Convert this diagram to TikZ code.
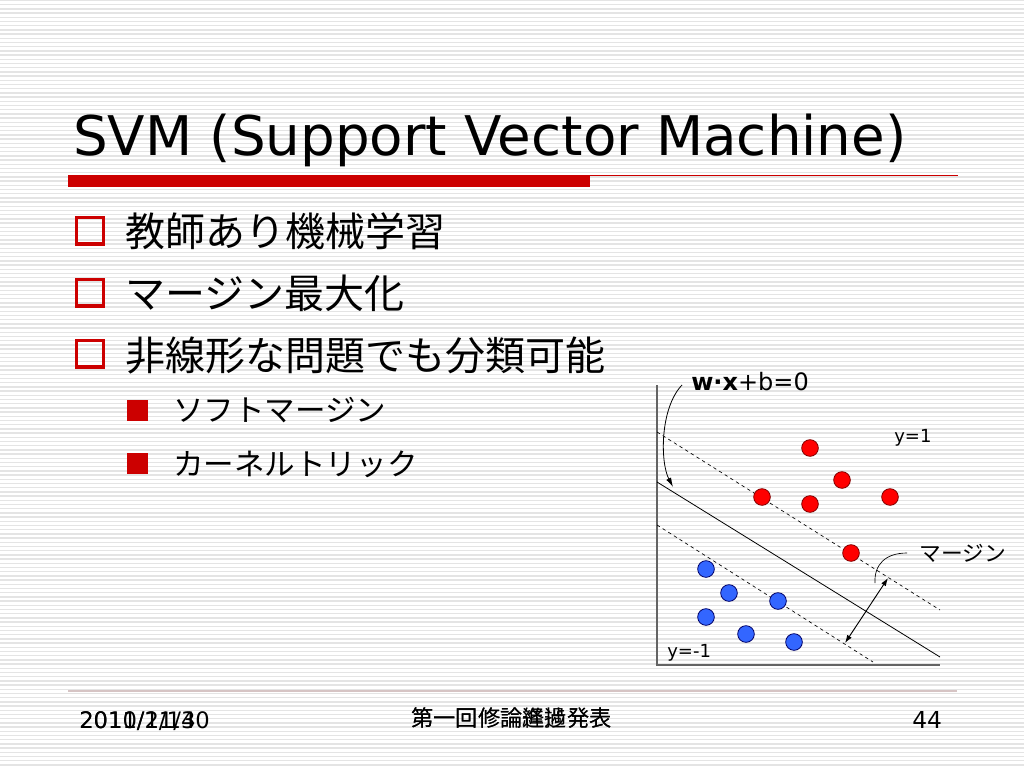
\documentclass[tikz,border=0pt]{standalone}
\usepackage{fontspec}
\setmainfont{DejaVu Sans}
\newfontfamily\jpfont{Noto Sans CJK JP}
\usepackage{xcolor}
\usepackage{tikz}
\usetikzlibrary{arrows.meta}
\definecolor{slidered}{RGB}{204,0,0}
\definecolor{dotred}{RGB}{255,0,0}
\definecolor{dotblue}{RGB}{51,102,255}
\definecolor{stripe}{RGB}{228,228,228}
\definecolor{footline}{RGB}{214,196,196}
\definecolor{axisgray}{RGB}{100,100,100}

\begin{document}
\begin{tikzpicture}[x=0.75pt, y=-0.75pt, inner sep=0pt,
    title/.style={anchor=base west, font=\fontsize{41}{41}\selectfont},
    item/.style={anchor=west, font=\jpfont\fontsize{30}{30}\selectfont},
    subitem/.style={anchor=west, font=\jpfont\fontsize{22.9}{23}\selectfont},
    hollowbox/.style={draw=slidered, line width=2.5pt, minimum size=20pt},
    fullbox/.style={fill=slidered, minimum size=15.75pt},
    reddot/.style={circle, draw=red!50!black, fill=dotred, line width=0.6pt, minimum size=12.5pt},
    bluedot/.style={circle, draw=blue!40!black, fill=dotblue, line width=0.6pt, minimum size=12.5pt},
    label/.style={anchor=base west, font=\fontsize{13.5}{14}\selectfont}]
    \useasboundingbox (0,0) rectangle (1024,768);

    % Background
    \fill[white] (0,0) rectangle (1024,768);
    \foreach \i in {0,...,182}
        \draw[stripe, line width=1pt] (0,{\i*4.2+0.5}) -- (1024,{\i*4.2+0.5});

    % Title
    \node[title] (title) at (73,155) {SVM (Support Vector Machine)};
    \fill[slidered] (68,175) rectangle (590,187);
    \draw[slidered, line width=0.9pt] (590,175.6) -- (958,175.6);

    % Bullets
    \node[hollowbox] (b1) at (90,230.7) {};
    \node[item] (t1) at (125,231) {教師あり機械学習};
    \node[hollowbox] (b2) at (90,292.5) {};
    \node[item] (t2) at (125,293) {マージン最大化};
    \node[hollowbox] (b3) at (90,353.8) {};
    \node[item] (t3) at (125,355) {非線形な問題でも分類可能};
    \node[fullbox] (s1) at (137,410) {};
    \node[subitem] (u1) at (173,410) {ソフトマージン};
    \node[fullbox] (s2) at (137,463) {};
    \node[subitem] (u2) at (173,464) {カーネルトリック};

    % Axes
    \coordinate (axis-top) at (657,385);
    \coordinate (origin) at (657,665);
    \coordinate (axis-end) at (940,665);
    \draw[axisgray, line width=1pt] (axis-top) -- (origin) -- (axis-end);

    % Hyperplane and margins
    \coordinate (plane-a) at (657,482);
    \coordinate (plane-b) at (940,657);
    \coordinate (upper-a) at (657,432);
    \coordinate (upper-b) at (940,610);
    \coordinate (lower-a) at (657,525);
    \coordinate (lower-b) at (873,662);
    \draw[line width=0.6pt] (plane-a) -- (plane-b);
    \draw[line width=0.5pt, dash pattern=on 2.5pt off 2.5pt] (upper-a) -- (upper-b);
    \draw[line width=0.5pt, dash pattern=on 2.5pt off 2.5pt] (lower-a) -- (lower-b);

    % Class y=1
    \node[reddot] (r1) at (810,448) {};
    \node[reddot] (r2) at (842,480) {};
    \node[reddot] (r3) at (762,497) {};
    \node[reddot] (r4) at (810,504) {};
    \node[reddot] (r5) at (890,497) {};
    \node[reddot] (r6) at (851,553) {};

    % Class y=-1
    \node[bluedot] (c1) at (706,569) {};
    \node[bluedot] (c2) at (729,593) {};
    \node[bluedot] (c3) at (778,601) {};
    \node[bluedot] (c4) at (706,617) {};
    \node[bluedot] (c5) at (746,634) {};
    \node[bluedot] (c6) at (794,642) {};

    % Labels
    \node[anchor=base west, font=\fontsize{18}{18}\selectfont] (plane-label) at (691,390) {\textbf{w·x}+b=0};
    \node[label] (pos-label) at (894,442) {y=1};
    \node[label] (neg-label) at (667,657) {y=-1};
    \node[anchor=west, inner xsep=9pt, font=\jpfont\fontsize{16.3}{17}\selectfont] (margin-label) at (907,553) {マージン};

    % Arrows
    \coordinate (plane-tip) at (673,487);
    \draw[-{Latex[length=7pt, width=4pt]}, line width=0.6pt] (682,385) .. controls (660,408) and (660,462) .. (plane-tip);
    \coordinate (margin-up) at (888,578);
    \coordinate (margin-down) at (845,643);
    \draw[{Latex[length=6pt, width=4pt]}-{Latex[length=6pt, width=4pt]}, line width=0.7pt] (margin-up) -- (margin-down);
    \coordinate (margin-end) at (875,583);
    \draw[line width=0.5pt] (margin-label.west) .. controls (885,553) and (874,565) .. (margin-end);

    % Footer
    \draw[footline, line width=0.8pt] (68,691) -- (957,691);
    \node[anchor=base west, font=\fontsize{17}{17}\selectfont] (date-a) at (79,728) {2010/11/30};
    \node[anchor=base west, font=\fontsize{17}{17}\selectfont] (date-b) at (79,728) {2011/2/14};
    \node[anchor=west, font=\jpfont\fontsize{16.7}{17}\selectfont] (event-a) at (411,718) {第一回修論進捗発表};
    \node[anchor=west, font=\jpfont\fontsize{16.7}{17}\selectfont] (event-b) at (411,718) {第一回修論経過発表};
    \node[anchor=base west, font=\fontsize{17.5}{18}\selectfont] (page) at (912,728) {44};
\end{tikzpicture}
\end{document}
